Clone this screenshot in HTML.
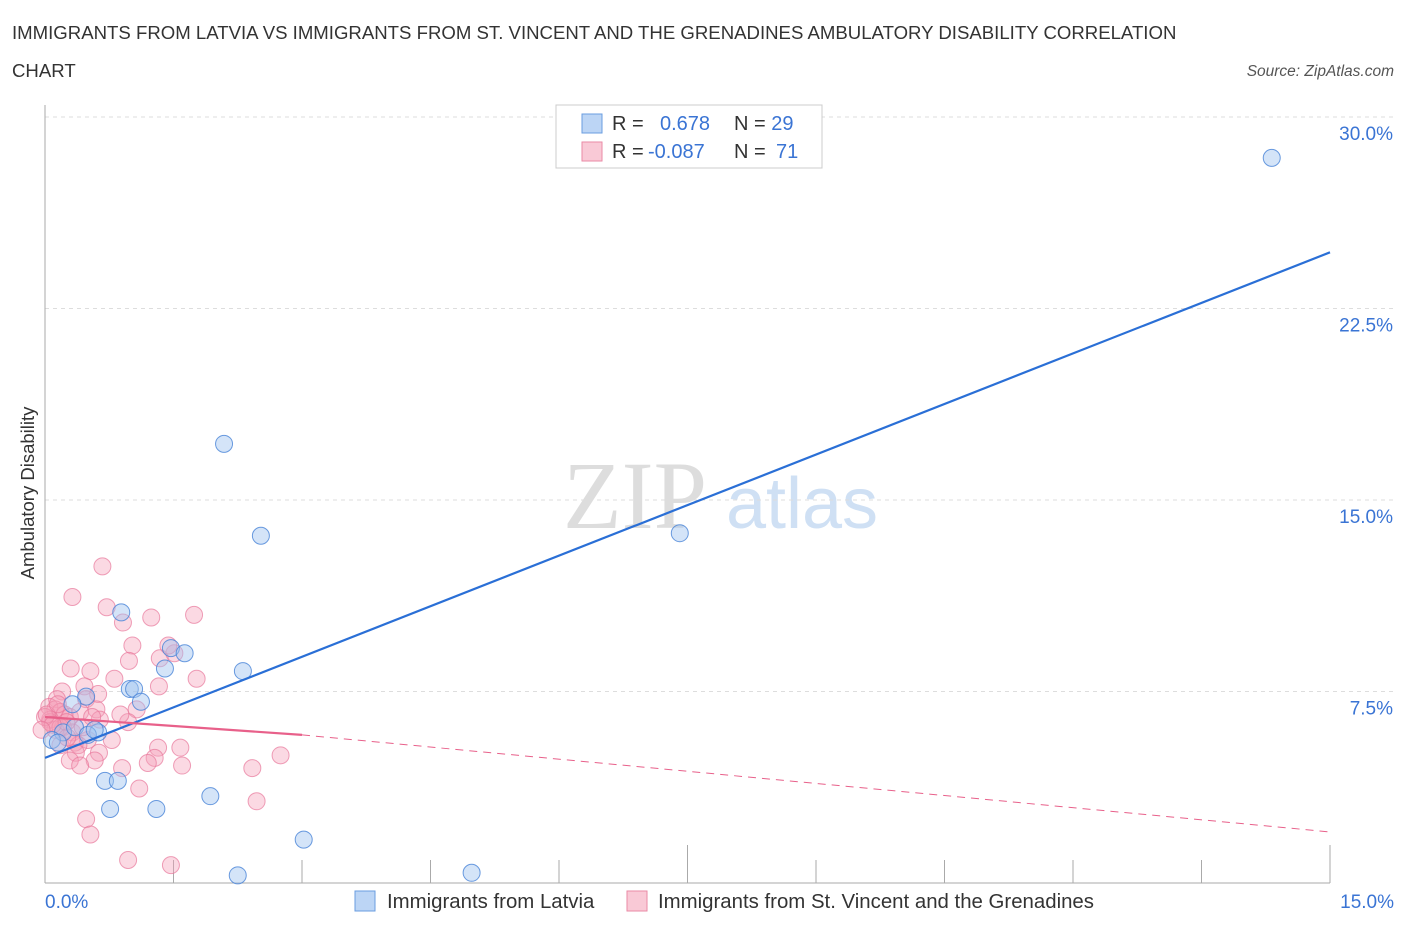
<!DOCTYPE html>
<html><head><meta charset="utf-8"><style>
body{margin:0;background:#fff;font-family:"Liberation Sans",sans-serif;}
</style></head><body>
<svg width="1406" height="930" xmlns="http://www.w3.org/2000/svg">
<text x="12" y="39" font-size="18.6" fill="#333">IMMIGRANTS FROM LATVIA VS IMMIGRANTS FROM ST. VINCENT AND THE GRENADINES AMBULATORY DISABILITY CORRELATION</text>
<text x="12" y="77" font-size="18.6" fill="#333">CHART</text>
<text x="1394" y="76" font-size="15.5" fill="#555" font-style="italic" text-anchor="end">Source: ZipAtlas.com</text>
<text x="635" y="528" font-size="96" fill="#ddd" font-family="Liberation Serif" text-anchor="middle">ZIP</text>
<text x="802" y="528" font-size="72" fill="#cfe0f4" text-anchor="middle">atlas</text>
<g id="grid"></g><g id="axes"></g><g id="pts"></g><g id="lines"></g>
<text x="34" y="493" font-size="18.5" fill="#333" text-anchor="middle" transform="rotate(-90 34 493)">Ambulatory Disability</text>
<text x="45" y="908" font-size="19" fill="#3a74d4">0.0%</text>
<text x="1394" y="908" font-size="19" fill="#3a74d4" text-anchor="end">15.0%</text>
<g>
<rect x="556" y="105" width="266" height="63" fill="#fff" stroke="#ccc"/>
<rect x="582" y="114" width="20" height="19" fill="#bcd5f5" stroke="#6a9de0"/>
<rect x="582" y="142" width="20" height="19" fill="#f9c9d6" stroke="#ea8aa6"/>
<text x="612" y="130" font-size="20" fill="#333">R = <tspan fill="#3a74d4" x="660">0.678</tspan><tspan x="734">N = </tspan><tspan fill="#3a74d4">29</tspan></text>
<text x="612" y="158" font-size="20" fill="#333">R = <tspan fill="#3a74d4" x="648">-0.087</tspan><tspan x="734">N = </tspan><tspan fill="#3a74d4" x="776">71</tspan></text>
</g>
<g>
<rect x="355" y="891" width="20" height="20" fill="#bcd5f5" stroke="#6a9de0"/>
<text x="387" y="908" font-size="20.4" fill="#333">Immigrants from Latvia</text>
<rect x="627" y="891" width="20" height="20" fill="#f9c9d6" stroke="#ea8aa6"/>
<text x="658" y="908" font-size="20.4" fill="#333">Immigrants from St. Vincent and the Grenadines</text>
</g>
</svg>
<script>
const blueX=[14.32,2.09,2.52,7.41,0.89,1.47,1.63,1.40,2.31,0.99,1.04,1.12,0.48,0.62,0.21,0.08,0.15,0.70,0.85,0.76,1.30,1.93,3.02,2.25,4.98,0.35,0.50,0.32,0.58];
const blueY=[28.4,17.2,13.6,13.7,10.6,9.2,9.0,8.4,8.3,7.6,7.6,7.1,7.3,5.9,5.9,5.6,5.5,4.0,4.0,2.9,2.9,3.4,1.7,0.3,0.4,6.1,5.8,7.0,6.0];
const pinkX=[0.67,0.32,0.72,0.91,1.24,1.74,1.02,1.34,1.51,1.44,0.98,0.30,0.53,0.81,1.77,1.33,0.46,0.20,0.62,0.48,0.14,1.07,0.05,0.12,0.18,0.23,0.06,0.29,0.41,0.60,0.97,0.21,0.32,0.50,0.78,0.12,0.18,0.35,0.06,0.39,1.32,1.58,0.63,0.36,1.28,0.29,0.58,0.90,1.20,1.60,2.42,2.75,0.41,1.10,2.47,0.48,0.53,0.97,1.47,0.18,0.00,0.02,0.25,0.64,0.09,0.15,0.88,0.44,0.26,-0.04,0.55];
const pinkY=[12.4,11.2,10.8,10.2,10.4,10.5,9.3,8.8,9.0,9.3,8.7,8.4,8.3,8.0,8.0,7.7,7.7,7.5,7.4,7.2,7.2,6.8,6.9,6.8,6.7,6.6,6.4,6.5,6.7,6.8,6.3,6.1,5.9,5.6,5.6,6.0,5.4,5.5,6.3,5.4,5.3,5.3,5.1,5.1,4.9,4.8,4.8,4.5,4.7,4.6,4.5,5.0,4.6,3.7,3.2,2.5,1.9,0.9,0.7,6.1,6.5,6.6,6.3,6.4,6.2,7.0,6.6,6.1,5.7,6.0,6.5];
const yTicks=[7.5,15,22.5,30];
const xTicks=[0,1.5,3,4.5,6,7.5,9,10.5,12,13.5,15];
const blueTrend=[[0,4.9],[15,24.7]];
const pinkTrend=[[0,6.5],[3,5.8],[15,2.0]];
const X=v=>45+v/15*1285, Y=v=>883-v/7.5*191.5;
const NS="http://www.w3.org/2000/svg";
function mk(t,a,p){const e=document.createElementNS(NS,t);for(const k in a)e.setAttribute(k,a[k]);document.getElementById(p).appendChild(e);return e;}
yTicks.forEach(v=>{
 const l=mk('line',{x1:45,x2:1394,y1:Y(v),y2:Y(v),stroke:'#ddd','stroke-dasharray':'4,4'},'grid');
 
 
 const t=mk('text',{x:1393,y:Y(v)+23,'font-size':19,fill:'#3a74d4','text-anchor':'end'},'grid');
 t.textContent=v.toFixed(1)+'%';
 
 
});
const ax=mk('line',{x1:45,x2:45,y1:105,y2:883,stroke:'#aaa'},'axes');


const bx=mk('line',{x1:45,x2:1330,y1:883,y2:883,stroke:'#aaa'},'axes');


xTicks.forEach((v,i)=>{
 const tk=mk('line',{x1:X(v),x2:X(v),y1:(i==5||i==10)?845:860,y2:883,stroke:'#aaa'},'axes');
 
 
});
pinkX.forEach((x,i)=>{
 const c=mk('circle',{cx:X(x),cy:Y(pinkY[i]),r:8.5,fill:'rgba(244,160,185,0.4)',stroke:'rgba(232,120,155,0.7)','stroke-width':1},'pts');
 
 
});
blueX.forEach((x,i)=>{
 const c=mk('circle',{cx:X(x),cy:Y(blueY[i]),r:8.5,fill:'rgba(160,195,240,0.45)',stroke:'rgba(70,130,215,0.8)','stroke-width':1},'pts');
 
 
});
const bl=mk('line',{x1:X(blueTrend[0][0]),y1:Y(blueTrend[0][1]),x2:X(blueTrend[1][0]),y2:Y(blueTrend[1][1]),stroke:'#2a6fd6','stroke-width':2.2},'lines');


const pl=mk('line',{x1:X(pinkTrend[0][0]),y1:Y(pinkTrend[0][1]),x2:X(pinkTrend[1][0]),y2:Y(pinkTrend[1][1]),stroke:'#e8608a','stroke-width':2.2},'lines');


const pd=mk('line',{x1:X(pinkTrend[1][0]),y1:Y(pinkTrend[1][1]),x2:X(pinkTrend[2][0]),y2:Y(pinkTrend[2][1]),stroke:'#e8608a','stroke-width':1,'stroke-dasharray':'8,6'},'lines');


</script>
</body></html>
